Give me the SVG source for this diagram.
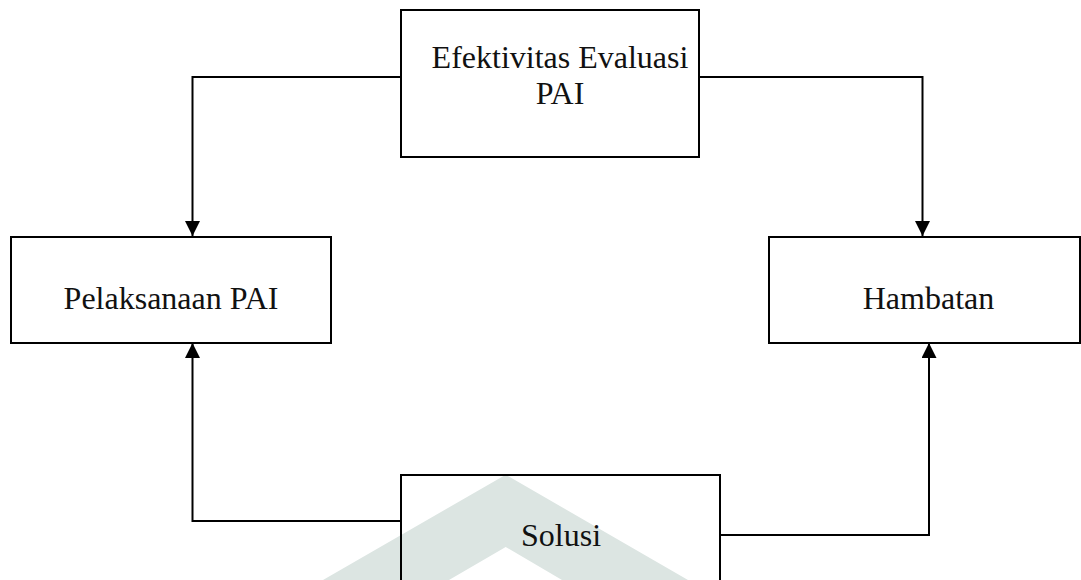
<svg xmlns="http://www.w3.org/2000/svg" width="1081" height="580" viewBox="0 0 1081 580">
  <style>
    .box { fill: #ffffff; stroke: #000000; stroke-width: 2; }
    .open { fill: none; stroke: #000000; stroke-width: 2; }
    .lbl { font-family: "Liberation Serif", "Times New Roman", serif; font-size: 32px; fill: #111111; text-anchor: middle; }
    .conn { fill: none; stroke: #000000; stroke-width: 2; marker-end: url(#arrow); }
  </style>
  <defs>
    <marker id="arrow" markerUnits="userSpaceOnUse" markerWidth="15" markerHeight="15" refX="15" refY="7.5" orient="auto">
      <path d="M0,0 L15,7.5 L0,15 z" fill="#000000"/>
    </marker>
  </defs>
  <rect width="1081" height="580" fill="#ffffff"/>
  <polygon id="watermark" points="323,580 505.7,474.7 688,580 562,580 505.7,547 449,580" fill="#dce5e2"/>
  <g id="connectors">
    <path class="conn" d="M401,77 H192.5 V236"/>
    <path class="conn" d="M699,77 H922.5 V236"/>
    <path class="conn" d="M401,521 H192.5 V343"/>
    <path class="conn" d="M720,535 H929 V343"/>
  </g>
  <g id="efektivitas">
    <rect class="box" x="401" y="10" width="298" height="147"/>
    <text class="lbl" x="560" y="68">Efektivitas Evaluasi</text>
    <text class="lbl" x="560" y="104">PAI</text>
  </g>
  <g id="pelaksanaan">
    <rect class="box" x="11" y="237" width="320" height="106"/>
    <text class="lbl" x="171" y="309">Pelaksanaan PAI</text>
  </g>
  <g id="hambatan">
    <rect class="box" x="769" y="237" width="311" height="106"/>
    <text class="lbl" x="928.5" y="309">Hambatan</text>
  </g>
  <g id="solusi">
    <rect class="open" x="401" y="475" width="319" height="120"/>
    <text class="lbl" x="561" y="546">Solusi</text>
  </g>
</svg>
